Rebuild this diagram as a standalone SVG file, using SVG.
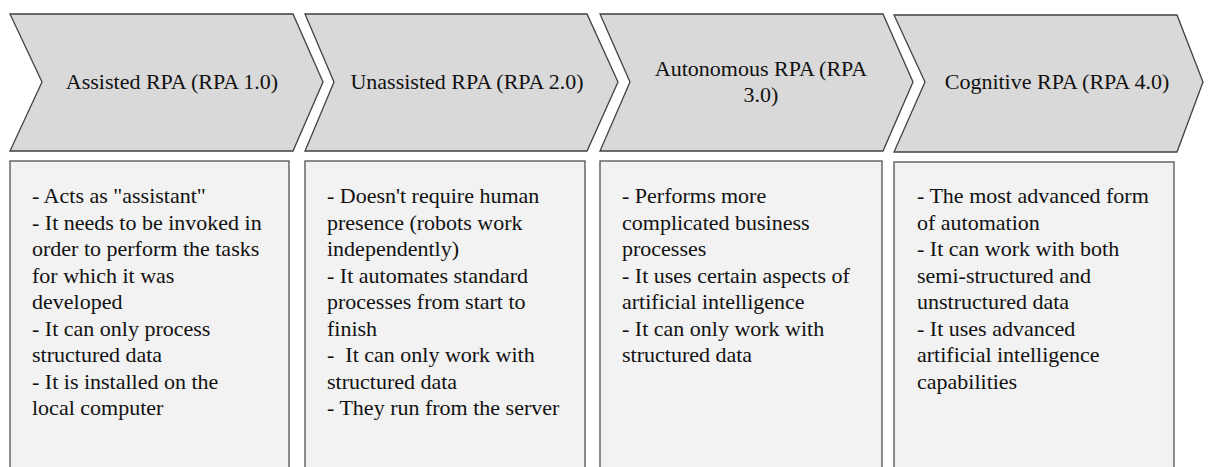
<svg xmlns="http://www.w3.org/2000/svg" width="1213" height="467" viewBox="0 0 1213 467">
  <style>
    .stage { fill: #d9d9d9; stroke: #404040; stroke-width: 1.3; }
    .card { fill: #f2f2f2; stroke: #505050; stroke-width: 1.3; }
    .head { font-family: "Liberation Serif", "Times New Roman", serif; font-size: 22px; fill: #111111; text-anchor: middle; }
    .body { font-family: "Liberation Serif", "Times New Roman", serif; font-size: 22px; fill: #111111; }
  </style>
  <rect width="1213" height="467" fill="#ffffff"/>

  <!-- Stage 1 -->
  <g id="rpa1">
    <path class="stage" d="M10,14 L293,14 L323,82 L293,151 L10,151 L42,82 Z"/>
    <text class="head" x="172" y="89">Assisted RPA (RPA 1.0)</text>
    <rect class="card" x="10" y="161" width="279" height="320"/>
    <text class="body" x="32" y="203">
      <tspan x="32" dy="0">- Acts as "assistant"</tspan>
      <tspan x="32" dy="26.5">- It needs to be invoked in</tspan>
      <tspan x="32" dy="26.5">order to perform the tasks</tspan>
      <tspan x="32" dy="26.5">for which it was</tspan>
      <tspan x="32" dy="26.5">developed</tspan>
      <tspan x="32" dy="26.5">- It can only process</tspan>
      <tspan x="32" dy="26.5">structured data</tspan>
      <tspan x="32" dy="26.5">- It is installed on the</tspan>
      <tspan x="32" dy="26.5">local computer</tspan>
    </text>
  </g>

  <!-- Stage 2 -->
  <g id="rpa2">
    <path class="stage" d="M305,14 L587,14 L618,82 L587,151 L305,151 L334,82 Z"/>
    <text class="head" x="467" y="89">Unassisted RPA (RPA 2.0)</text>
    <rect class="card" x="305" y="161" width="280" height="320"/>
    <text class="body" x="327" y="203">
      <tspan x="327" dy="0">- Doesn't require human</tspan>
      <tspan x="327" dy="26.5">presence (robots work</tspan>
      <tspan x="327" dy="26.5">independently)</tspan>
      <tspan x="327" dy="26.5">- It automates standard</tspan>
      <tspan x="327" dy="26.5">processes from start to</tspan>
      <tspan x="327" dy="26.5">finish</tspan>
      <tspan x="327" dy="26.5" xml:space="preserve">-  It can only work with</tspan>
      <tspan x="327" dy="26.5">structured data</tspan>
      <tspan x="327" dy="26.5">- They run from the server</tspan>
    </text>
  </g>

  <!-- Stage 3 -->
  <g id="rpa3">
    <path class="stage" d="M600,14 L883,14 L913,82 L883,151 L600,151 L630,82 Z"/>
    <text class="head" x="761" y="76">Autonomous RPA (RPA</text>
    <text class="head" x="761" y="102">3.0)</text>
    <rect class="card" x="600" y="161" width="282" height="320"/>
    <text class="body" x="622" y="203">
      <tspan x="622" dy="0">- Performs more</tspan>
      <tspan x="622" dy="26.5">complicated business</tspan>
      <tspan x="622" dy="26.5">processes</tspan>
      <tspan x="622" dy="26.5">- It uses certain aspects of</tspan>
      <tspan x="622" dy="26.5">artificial intelligence</tspan>
      <tspan x="622" dy="26.5">- It can only work with</tspan>
      <tspan x="622" dy="26.5">structured data</tspan>
    </text>
  </g>

  <!-- Stage 4 -->
  <g id="rpa4">
    <path class="stage" d="M894,15 L1177,15 L1203,82 L1177,152 L894,152 L925,82 Z"/>
    <text class="head" x="1057" y="89">Cognitive RPA (RPA 4.0)</text>
    <rect class="card" x="894" y="162" width="280" height="320"/>
    <text class="body" x="917" y="203">
      <tspan x="917" dy="0">- The most advanced form</tspan>
      <tspan x="917" dy="26.5">of automation</tspan>
      <tspan x="917" dy="26.5">- It can work with both</tspan>
      <tspan x="917" dy="26.5">semi-structured and</tspan>
      <tspan x="917" dy="26.5">unstructured data</tspan>
      <tspan x="917" dy="26.5">- It uses advanced</tspan>
      <tspan x="917" dy="26.5">artificial intelligence</tspan>
      <tspan x="917" dy="26.5">capabilities</tspan>
    </text>
  </g>

  <!-- No connectors: the chevrons themselves carry the sequence -->
  <g id="connectors"/>
</svg>
